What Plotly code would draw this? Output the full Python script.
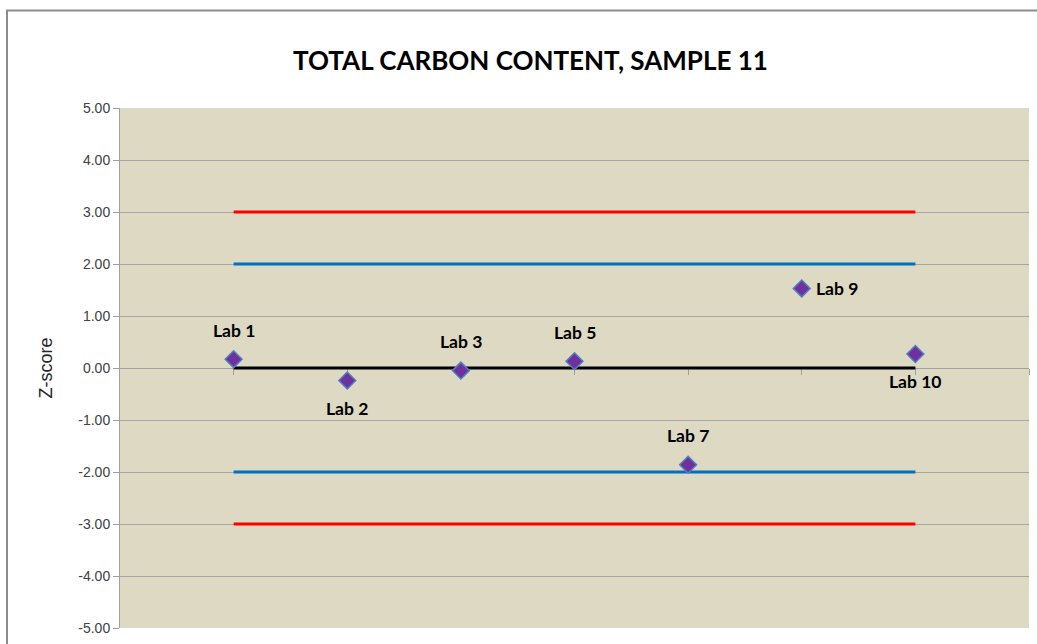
import plotly.graph_objects as go

labs = ["Lab 1", "Lab 2", "Lab 3", "Lab 5", "Lab 7", "Lab 9", "Lab 10"]
positions = [1, 2, 3, 4, 5, 6, 7]
z_scores = [0.17, -0.24, -0.05, 0.13, -1.86, 1.53, 0.27]
label_side = ["above", "below", "above", "above", "above", "right", "below"]

limit_action = 3.0
limit_warning = 2.0
y_ticks = [5, 4, 3, 2, 1, 0, -1, -2, -3, -4, -5]
y_tick_text = [f"{v:.2f}" for v in y_ticks]

fig = go.Figure()

line_x = [positions[0], positions[-1]]
for val, col in [(limit_action, "#FF0000"), (-limit_action, "#FF0000"),
                 (limit_warning, "#0070C0"), (-limit_warning, "#0070C0"),
                 (0, "#000000")]:
    fig.add_trace(go.Scatter(x=line_x, y=[val, val], mode="lines",
                             line=dict(color=col, width=3), hoverinfo="skip",
                             showlegend=False))

fig.add_trace(go.Scatter(x=positions, y=z_scores, mode="markers",
                         marker=dict(symbol="diamond", size=13, color="#7030A0",
                                     line=dict(color="#4F81BD", width=1.5)),
                         showlegend=False))

for x, y, t, side in zip(positions, z_scores, labs, label_side):
    if side == "above":
        fig.add_annotation(x=x, y=y, text=f"<b>{t}</b>", showarrow=False, yshift=29)
    elif side == "below":
        fig.add_annotation(x=x, y=y, text=f"<b>{t}</b>", showarrow=False, yshift=-28)
    else:
        fig.add_annotation(x=x, y=y, text=f"<b>{t}</b>", showarrow=False,
                           xanchor="left", xshift=12)

fig.update_annotations(font=dict(family="Lato, Open Sans, sans-serif", size=17.5, color="#000000"))

fig.add_annotation(text="<b>TOTAL CARBON CONTENT, SAMPLE 11</b>", xref="paper", yref="paper",
                   x=(530 - 120) / 909, y=1 + (108 - 60) / 523, showarrow=False,
                   font=dict(family="Lato, Open Sans, sans-serif", size=26, color="#000000"),
                   xanchor="center", yanchor="middle")

fig.add_shape(type="rect", xref="paper", yref="paper",
              x0=(7 - 120) / 909, x1=(1045 - 120) / 909,
              y0=(631 - 650) / 523, y1=1 + (108 - 10) / 523,
              line=dict(color="#8C8C8C", width=2), layer="below")

fig.update_layout(
    width=1037, height=644,
    margin=dict(l=120, r=8, t=108, b=11),
    paper_bgcolor="#FFFFFF",
    plot_bgcolor="#DDD9C3",
    showlegend=False,
    xaxis=dict(range=[0, 8], tickvals=[1, 2, 3, 4, 5, 6, 7, 8], showticklabels=False,
               showgrid=False, zeroline=False, showline=True, linecolor="#A0A0A0",
               linewidth=1, ticks="outside", ticklen=6, tickcolor="#A0A0A0",
               anchor="free", position=0.5, layer="below traces"),
    yaxis=dict(range=[-5, 5], tickvals=y_ticks, ticktext=y_tick_text,
               showgrid=True, gridcolor="#A6A6A6", gridwidth=1, zeroline=False,
               showline=True, linecolor="#A0A0A0", linewidth=1,
               ticks="outside", ticklen=6, tickcolor="#A0A0A0", layer="below traces",
               tickfont=dict(family="Liberation Sans, Arial, sans-serif", size=14, color="#404040"),
               title=dict(text="Z-score", standoff=20,
                          font=dict(family="Liberation Sans, Arial, sans-serif", size=18, color="#262626"))),
)

fig.write_html("out.html", config={"displayModeBar": False},
               post_script="document.body.style.margin='0';")
